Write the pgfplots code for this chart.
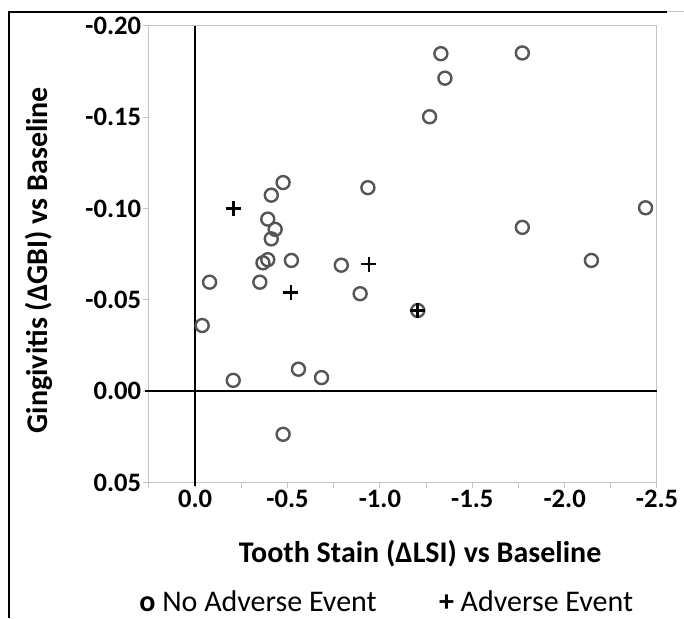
\documentclass[border=0pt]{standalone}
\usepackage{fontspec}
\setmainfont{Carlito}
\usepackage{pgfplots}
\pgfplotsset{compat=1.18}
\definecolor{MarkGray}{HTML}{555555}
\definecolor{FrameGray}{HTML}{C4C4C4}

% no adverse event (circles)
\pgfplotstableread{
x      y
-1.330 -0.1847
-1.771 -0.1851
-1.352 -0.1713
-1.269 -0.1502
-0.476 -0.1142
-0.412 -0.1073
-0.935 -0.1114
-2.438 -0.1004
-0.393 -0.0942
-0.433 -0.0886
-0.412 -0.0834
-1.771 -0.0897
-0.393 -0.0720
-0.367 -0.0703
-0.521 -0.0716
-0.791 -0.0690
-2.145 -0.0716
-0.078 -0.0597
-0.350 -0.0597
-0.893 -0.0534
-1.205 -0.0442
-0.038 -0.0360
-0.559 -0.0121
-0.684 -0.0075
-0.206 -0.0060
-0.476  0.0235
}\noae

% adverse event (plus)
\pgfplotstableread{
x      y
-0.206 -0.1000
-0.940 -0.0696
-0.518 -0.0541
-1.205 -0.0442
}\ae

\begin{document}
\begin{tikzpicture}
\useasboundingbox (-74.5pt,-67.65pt) rectangle (267.5pt,241.35pt);
% outer frame pieces
\draw[black, line width=1.1pt] (-69.8pt,-67.65pt) -- (-69.8pt,235.35pt) -- (259pt,235.35pt);
\draw[FrameGray, line width=0.5pt] (259pt,235.6pt) -- (267.5pt,235.6pt);
\begin{axis}[
    scale only axis,
    width=254pt,
    height=228.5pt,
    clip=false,
    x dir=reverse,
    y dir=reverse,
    xmin=-2.5, xmax=0.25,
    ymin=-0.20, ymax=0.05,
    xtick={0,-0.5,-1,-1.5,-2,-2.5},
    xticklabels={0.0,-0.5,-1.0,-1.5,-2.0,-2.5},
    minor xtick={0.25,-0.25,-0.75,-1.25,-1.75,-2.25},
    ytick={-0.20,-0.15,-0.10,-0.05,0,0.05},
    yticklabels={-0.20,-0.15,-0.10,-0.05,0.00,0.05},
    xtick pos=bottom,
    ytick pos=left,
    tick align=outside,
    major tick length=2.8pt,
    minor tick length=2.8pt,
    tick style={FrameGray, line width=0.5pt},
    axis line style={FrameGray, line width=0.5pt},
    ticklabel style={font=\bfseries\fontsize{13.3}{15}\selectfont, text=black},
    xticklabel style={yshift=2.5pt},
    yticklabel style={xshift=2.4pt},
    xlabel={Tooth Stain (ΔLSI) vs Baseline},
    ylabel={Gingivitis (ΔGBI) vs Baseline},
    label style={font=\bfseries\fontsize{15}{18}\selectfont},
    xlabel style={at={(axis description cs:0.5335,-0.1735)}, anchor=base},
    ylabel style={at={(axis description cs:-0.199,0.487)}, anchor=base},
]
% reference lines at zero
\addplot[black, line width=1.1pt] coordinates {(0.27,0) (-2.5,0)};
\addplot[black, line width=0.9pt] coordinates {(0,-0.20) (0,0.052)};
\addplot[only marks, mark=o, mark size=3.25pt, MarkGray, line width=1.2pt] table[x=x,y=y] {\noae};
\addplot[only marks, mark=+, mark size=3.75pt, black, line width=1.3pt] table[x=x,y=y] {\ae};
\end{axis}
% legend
\node[anchor=base west, inner sep=0pt, font=\fontsize{15}{18}\selectfont] at (-5pt,-64.3pt) {\textbf{o} No Adverse Event};
\node[anchor=base west, inner sep=0pt, font=\fontsize{15}{18}\selectfont] at (144.8pt,-64.3pt) {\textbf{+} Adverse Event};
\end{tikzpicture}
\end{document}
